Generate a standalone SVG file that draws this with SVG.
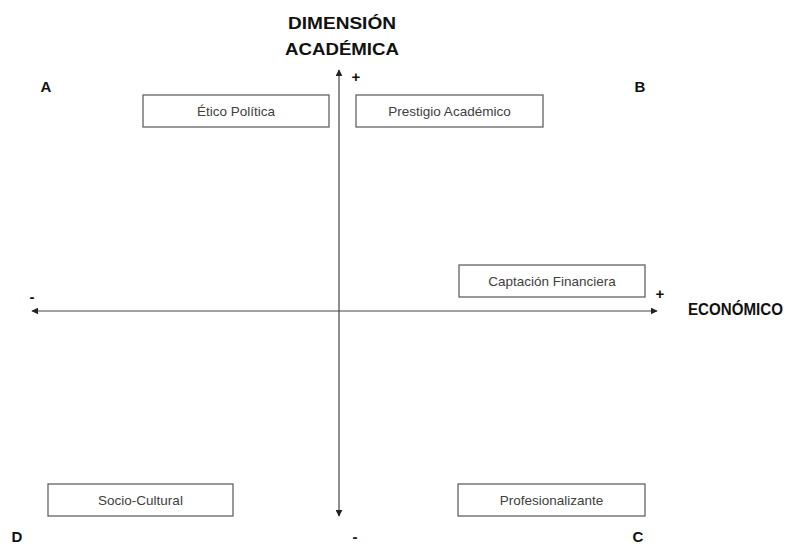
<svg xmlns="http://www.w3.org/2000/svg" width="794" height="546" viewBox="0 0 794 546">
<style>
.box{fill:#fff;stroke:#555;stroke-width:1.2}
.bt{font-family:"Liberation Sans",Arial,sans-serif;font-size:13.5px;fill:#404040;text-anchor:middle}
.hd{font-family:"Liberation Sans",Arial,sans-serif;font-size:17px;font-weight:bold;fill:#111}
.lb{font-family:"Liberation Sans",Arial,sans-serif;font-size:15px;font-weight:bold;fill:#111}
.ax{stroke:#444;stroke-width:1.2;fill:none}
</style>
<defs>
<marker id="ah" viewBox="0 0 10 10" refX="9" refY="5" markerWidth="7" markerHeight="7" markerUnits="userSpaceOnUse" orient="auto">
<path d="M0,0 L10,5 L0,10 z" fill="#222"/>
</marker>
</defs>
<rect width="794" height="546" fill="#fff"/>
<g id="connectors">
<line class="ax" x1="339" y1="312" x2="339" y2="70" marker-end="url(#ah)"/>
<line class="ax" x1="339" y1="312" x2="339" y2="516" marker-end="url(#ah)"/>
<line class="ax" x1="340" y1="311" x2="657" y2="311" marker-end="url(#ah)"/>
<line class="ax" x1="340" y1="311" x2="32" y2="311" marker-end="url(#ah)"/>
</g>
<g id="title">
<text class="hd" x="342" y="29" text-anchor="middle" textLength="108" lengthAdjust="spacingAndGlyphs">DIMENSIÓN</text>
<text class="hd" x="342" y="55" text-anchor="middle" textLength="114" lengthAdjust="spacingAndGlyphs">ACADÉMICA</text>
</g>
<g id="economico">
<text class="hd" x="688" y="315" textLength="95" lengthAdjust="spacingAndGlyphs">ECONÓMICO</text>
</g>
<g id="signs">
<text class="lb" x="356" y="82" text-anchor="middle">+</text>
<text class="lb" x="660" y="299" text-anchor="middle">+</text>
<text class="lb" x="32" y="302" text-anchor="middle">-</text>
<text class="lb" x="355" y="542" text-anchor="middle" font-size="13">-</text>
</g>
<g id="quadrants">
<text class="lb" x="46" y="92" text-anchor="middle">A</text>
<text class="lb" x="640" y="92" text-anchor="middle">B</text>
<text class="lb" x="638" y="542" text-anchor="middle">C</text>
<text class="lb" x="17" y="542" text-anchor="middle">D</text>
</g>
<g id="etico">
<rect class="box" x="143" y="95" width="186" height="32"/>
<text class="bt" x="236" y="116">Ético Política</text>
</g>
<g id="prestigio">
<rect class="box" x="356" y="95" width="187" height="32"/>
<text class="bt" x="449.5" y="116">Prestigio Académico</text>
</g>
<g id="captacion">
<rect class="box" x="459" y="265" width="186" height="32"/>
<text class="bt" x="552" y="286">Captación Financiera</text>
</g>
<g id="socio">
<rect class="box" x="48" y="484" width="185" height="32"/>
<text class="bt" x="140.5" y="505">Socio-Cultural</text>
</g>
<g id="profesionalizante">
<rect class="box" x="458" y="484" width="187" height="32"/>
<text class="bt" x="551.5" y="505">Profesionalizante</text>
</g>
</svg>
